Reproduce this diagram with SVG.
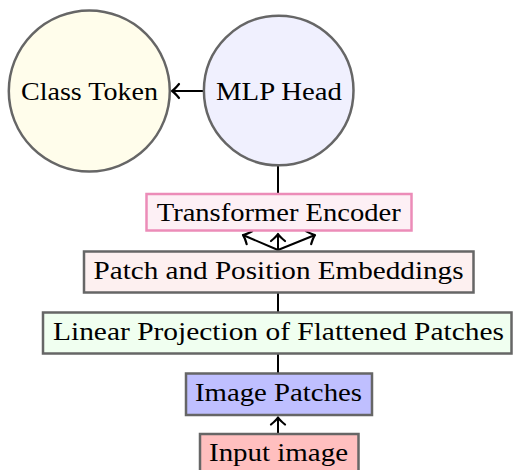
<svg xmlns="http://www.w3.org/2000/svg" width="513" height="470" viewBox="0 0 513 470">
<style>
  text { font-family: "Liberation Serif", "Times New Roman", serif; font-size: 25px; fill: #000; text-anchor: middle; }
  .node { stroke: #666666; stroke-width: 2.5; }
  .conn { stroke: #000; stroke-width: 2; fill: none; }
</style>
<defs>
  <marker id="ah" viewBox="-10 -9 12 18" markerWidth="12" markerHeight="18" refX="0" refY="0" orient="auto" markerUnits="userSpaceOnUse">
    <path d="M-7,-7 Q-2.5,-1.5 0,0 Q-2.5,1.5 -7,7" fill="none" stroke="#000" stroke-width="2.2" stroke-linecap="round" stroke-linejoin="round"/>
  </marker>
</defs>
<rect width="513" height="470" fill="#fff"/>
<g id="connectors">
  <line class="conn" x1="203" y1="91" x2="172" y2="91" marker-end="url(#ah)"/>
  <line class="conn" x1="278" y1="166" x2="278" y2="193"/>
  <line class="conn" x1="278" y1="250" x2="243" y2="235" marker-end="url(#ah)"/>
  <line class="conn" x1="278" y1="250" x2="278" y2="234" marker-end="url(#ah)"/>
  <line class="conn" x1="278" y1="250" x2="315" y2="235" marker-end="url(#ah)"/>
  <line class="conn" x1="278" y1="293" x2="278" y2="312"/>
  <line class="conn" x1="278" y1="354" x2="278" y2="373"/>
  <line class="conn" x1="278" y1="433" x2="278" y2="417.5" marker-end="url(#ah)"/>
</g>
<g id="class-token">
  <circle class="node" cx="89.3" cy="91" r="80.5" fill="#fffdeb"/>
  <text x="89.5" y="100" textLength="137" lengthAdjust="spacingAndGlyphs">Class Token</text>
</g>
<g id="mlp-head">
  <circle class="node" cx="278.7" cy="90.5" r="74.8" fill="#f0f0fe"/>
  <text x="279" y="100" textLength="126" lengthAdjust="spacingAndGlyphs">MLP Head</text>
</g>
<g id="transformer-encoder">
  <rect x="146.5" y="194" width="265" height="36.5" fill="#fdf0f5" stroke="#ec8cb8" stroke-width="2.5"/>
  <text x="278.7" y="221" textLength="244" lengthAdjust="spacingAndGlyphs">Transformer Encoder</text>
</g>
<g id="patch-position-embeddings">
  <rect class="node" x="84" y="251.5" width="389.5" height="41" fill="#fdf0f0"/>
  <text x="278.5" y="278.5" textLength="370" lengthAdjust="spacingAndGlyphs">Patch and Position Embeddings</text>
</g>
<g id="linear-projection">
  <rect class="node" x="43" y="312.5" width="468.5" height="41" fill="#f0fff0"/>
  <text x="278.5" y="340" textLength="451" lengthAdjust="spacingAndGlyphs">Linear Projection of Flattened Patches</text>
</g>
<g id="image-patches">
  <rect class="node" x="186" y="373.5" width="186" height="41.5" fill="#bfbfff"/>
  <text x="278.5" y="400.5" textLength="167" lengthAdjust="spacingAndGlyphs">Image Patches</text>
</g>
<g id="input-image">
  <rect class="node" x="200" y="434" width="158.5" height="45" fill="#ffbfbf"/>
  <text x="278.5" y="460.5" textLength="139" lengthAdjust="spacingAndGlyphs">Input image</text>
</g>
</svg>
